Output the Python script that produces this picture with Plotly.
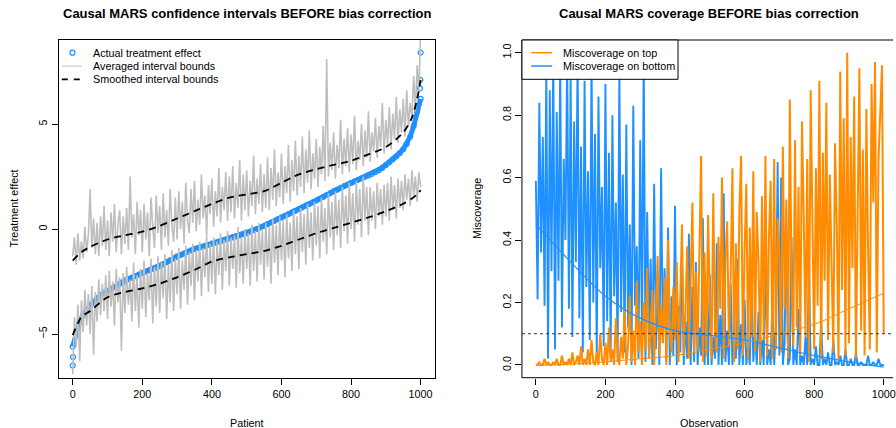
import plotly.graph_objects as go

W, H = 896, 428

# ---------------- data: left panel ----------------
PATIENT_STEP10 = list(range(0, 1001, 10))
EFFECT = [-5.6, -4.9, -4.4, -4.1, -3.85, -3.65, -3.48, -3.3, -3.15, -3.05,
          -2.95, -2.85, -2.75, -2.65, -2.55, -2.45, -2.38, -2.31, -2.24, -2.17,
          -2.1, -2.03, -1.96, -1.9, -1.84, -1.78, -1.68, -1.58, -1.49, -1.4,
          -1.3, -1.23, -1.16, -1.09, -1.02, -0.95, -0.9, -0.85, -0.8, -0.75,
          -0.7, -0.65, -0.6, -0.55, -0.5, -0.45, -0.4, -0.35, -0.3, -0.25,
          -0.2, -0.13, -0.06, 0.01, 0.08, 0.15, 0.23, 0.31, 0.39, 0.47,
          0.55, 0.63, 0.71, 0.79, 0.87, 0.95, 1.03, 1.11, 1.19, 1.27,
          1.35, 1.44, 1.53, 1.62, 1.71, 1.8, 1.88, 1.96, 2.04, 2.12,
          2.2, 2.27, 2.34, 2.41, 2.48, 2.55, 2.63, 2.71, 2.8, 2.92,
          3.05, 3.18, 3.32, 3.46, 3.62, 3.8, 4.05, 4.4, 4.9, 5.6, 6.2]
TAIL_IDX = [0, 1, 998, 999, 1000]
TAIL_EFFECT = [-6.5, -6.1, 6.7, 7.1, 8.4]

PATIENT_STEP5 = list(range(0, 1001, 5))
UPPER = [-1.3, -0.4, -1.7, -0.2, -1.5, -0.6, -1.4, 0.1, -1.1, -0.3,
         1.9, -0.9, 0.5, -1.2, 0.3, -1.3, 0.6, -0.8, 1.1, -1.0,
         0.4, -1.3, 0.8, -0.6, 1.2, -1.1, 0.2, 0.9, -1.2, 0.6,
         -0.7, 1.0, -1.0, 2.5, -0.4, 0.7, -1.2, 1.3, -0.3, 0.9,
         -1.1, 1.2, -0.5, 0.8, -1.3, 1.5, 0.1, -0.9, 1.6, -0.2,
         1.1, -1.0, 1.7, -0.4, 0.9, -0.8, 1.9, 0.2, -0.6, 1.5,
         -0.5, 1.8, 0.0, 1.3, -0.7, 2.2, 0.4, -0.2, 1.9, 0.3,
         2.3, -0.1, 1.4, 0.2, 2.6, 0.5, 1.6, -0.3, 2.1, 0.7,
         2.4, 0.1, 1.8, 0.6, 2.9, 0.3, 2.0, 0.9, 2.7, 0.4,
         2.5, 0.8, 3.0, 0.5, 2.2, 1.0, 3.3, 0.4, 2.6, 0.9,
         2.8, 0.6, 2.3, 1.1, 3.5, 0.7, 2.4, 1.2, 3.1, 0.8,
         2.6, 1.0, 3.4, 0.9, 2.9, 1.4, 3.8, 1.1, 2.7, 1.5,
         3.6, 1.2, 3.0, 1.7, 4.0, 1.3, 3.3, 1.8, 4.2, 1.6,
         3.5, 2.0, 4.4, 1.7, 3.8, 2.2, 4.7, 1.9, 3.6, 2.4,
         4.3, 2.0, 3.9, 2.6, 4.9, 2.3, 8.1, 2.5, 4.1, 2.8,
         4.6, 2.4, 4.0, 2.9, 5.2, 2.6, 4.3, 3.0, 4.8, 2.7,
         4.5, 3.1, 5.4, 2.8, 4.2, 3.3, 5.0, 3.0, 4.7, 3.4,
         5.6, 3.2, 4.6, 3.7, 5.3, 3.4, 4.9, 3.9, 6.0, 3.6,
         5.2, 4.0, 5.8, 3.8, 5.5, 4.3, 6.3, 4.1, 5.7, 4.6,
         6.2, 4.4, 6.6, 4.9, 6.0, 5.3, 7.3, 5.6, 7.8, 6.5,
         9.5]
LOWER = [-6.9, -4.2, -5.6, -3.6, -6.3, -3.4, -4.9, -2.9, -4.6, -3.1,
         -5.0, -2.7, -6.0, -3.0, -4.4, -2.4, -4.1, -2.6, -3.9, -2.2,
         -4.3, -2.0, -3.7, -2.5, -4.6, -1.9, -3.5, -2.3, -5.8, -2.1,
         -4.0, -1.8, -3.6, -2.4, -4.4, -1.6, -3.9, -2.2, -4.7, -1.9,
         -3.8, -1.5, -4.2, -2.1, -3.4, -1.4, -4.5, -1.8, -3.7, -1.3,
         -4.0, -1.6, -3.3, -1.2, -4.3, -1.7, -3.5, -1.0, -3.9, -1.4,
         -3.1, -0.9, -3.8, -1.5, -2.9, -0.8, -3.6, -1.1, -2.7, -0.7,
         -3.4, -1.0, -2.5, -0.6, -3.2, -0.9, -2.3, -0.3, -3.0, -0.7,
         -2.6, -0.4, -3.1, -0.6, -2.2, -0.2, -2.9, -0.5, -2.0, -0.1,
         -2.7, -0.4, -1.9, -0.3, -2.8, 0.1, -2.1, -0.4, -2.6, 0.0,
         -1.9, -0.2, -2.7, 0.2, -2.0, -0.1, -2.5, 0.3, -1.7, 0.0,
         -2.4, 0.3, -1.8, 0.1, -2.6, 0.5, -1.6, 0.2, -2.2, 0.6,
         -1.5, 0.4, -2.3, 0.7, -1.4, 0.3, -2.0, 0.9, -1.2, 0.6,
         -1.9, 1.0, -1.1, 0.7, -1.7, 1.2, -0.9, 0.8, -1.5, 1.3,
         -0.8, 1.1, -1.4, 1.5, -0.6, 1.0, -1.2, 1.7, -0.4, 1.3,
         -1.0, 1.8, -0.3, 1.4, -0.9, 2.0, -0.1, 1.6, -0.7, 2.2,
         0.0, 1.7, -0.6, 2.3, 0.2, 1.9, -0.4, 2.5, 0.4, 2.0,
         -0.3, 2.0, 0.4, 1.8, 0.0, 2.2, 0.6, 1.9, 0.2, 2.1,
         0.6, 2.2, 0.4, 2.5, 0.9, 2.1, 0.5, 2.4, 1.0, 2.3,
         0.9, 2.6, 1.4, 2.4, 1.1, 2.8, 1.6, 2.5, 1.3, 2.7,
         2.0]

SMOOTH_IDX = [0, 25, 50, 100, 150, 200, 250, 300, 350, 400, 450, 500, 550,
              600, 650, 700, 750, 800, 850, 900, 950, 975, 990, 1000]
UPPER_SMOOTH = [-1.5, -1.1, -0.85, -0.5, -0.3, -0.13, 0.15, 0.5, 0.85, 1.2,
                1.5, 1.65, 1.8, 2.2, 2.6, 2.85, 3.05, 3.25, 3.55, 3.9, 4.6,
                5.3, 6.2, 7.1]
LOWER_SMOOTH = [-5.05, -4.2, -3.9, -3.25, -3.0, -2.83, -2.6, -2.3, -1.95, -1.55,
                -1.35, -1.2, -1.05, -0.8, -0.5, -0.2, 0.05, 0.3, 0.55, 0.85,
                1.2, 1.45, 1.65, 1.85]

# ---------------- data: right panel ----------------
OBS_STEP5 = list(range(0, 1001, 5))
MISS_BOTTOM = [0.59, 0.21, 0.84, 0.36, 0.73, 0.19, 0.95, 0.02, 0.88, 0.30,
               1.0, 0.05, 0.81, 0.27, 0.97, 0.12, 0.66, 0.40, 1.0, 0.18,
               0.93, 0.09, 0.78, 0.33, 1.0, 0.15, 0.70, 0.04, 0.91, 0.25,
               0.62, 0.08, 0.99, 0.20, 0.74, 0.02, 0.86, 0.31, 0.57, 0.06,
               0.90, 0.14, 0.68, 0.03, 0.80, 0.22, 0.52, 0.01, 0.95, 0.17,
               0.61, 0.04, 0.77, 0.12, 0.45, 0.00, 0.83, 0.19, 0.38, 0.02,
               0.72, 0.08, 1.0, 0.01, 0.49, 0.10, 0.34, 0.00, 0.58, 0.05,
               0.27, 0.00, 0.63, 0.07, 0.31, 0.01, 0.44, 0.00, 0.22, 0.03,
               0.51, 0.00, 0.19, 0.04, 0.36, 0.00, 0.14, 0.02, 0.42, 0.00,
               0.25, 0.01, 0.33, 0.00, 0.12, 0.03, 0.47, 0.00, 0.18, 0.00,
               0.29, 0.00, 0.09, 0.02, 0.39, 0.00, 0.16, 0.00, 0.55, 0.01,
               0.11, 0.00, 0.26, 0.00, 0.07, 0.02, 0.34, 0.00, 0.13, 0.00,
               0.21, 0.00, 0.06, 0.00, 0.28, 0.01, 0.10, 0.00, 0.17, 0.00,
               0.08, 0.00, 0.37, 0.00, 0.05, 0.00, 0.22, 0.00, 0.12, 0.65,
               0.03, 0.60, 0.00, 0.07, 0.46, 0.00, 0.02, 0.41, 0.00, 0.05,
               0.00, 0.18, 0.00, 0.03, 0.00, 0.09, 0.00, 0.31, 0.00, 0.02,
               0.00, 0.06, 0.00, 0.00, 0.14, 0.00, 0.02, 0.00, 0.04, 0.00,
               0.00, 0.08, 0.00, 0.01, 0.00, 0.03, 0.00, 0.00, 0.05, 0.00,
               0.00, 0.02, 0.00, 0.00, 0.04, 0.00, 0.00, 0.01, 0.00, 0.00,
               0.00, 0.03, 0.00, 0.00, 0.01, 0.00, 0.00, 0.02, 0.00, 0.00,
               0.00]
MISS_TOP = [0.00, 0.00, 0.01, 0.00, 0.00, 0.02, 0.00, 0.01, 0.00, 0.00,
            0.01, 0.00, 0.02, 0.00, 0.00, 0.03, 0.00, 0.01, 0.00, 0.02,
            0.00, 0.04, 0.00, 0.01, 0.03, 0.00, 0.06, 0.00, 0.02, 0.00,
            0.05, 0.00, 0.08, 0.01, 0.00, 0.04, 0.00, 0.10, 0.02, 0.00,
            0.07, 0.00, 0.12, 0.01, 0.05, 0.00, 0.15, 0.03, 0.00, 0.09,
            0.02, 0.18, 0.00, 0.06, 0.22, 0.01, 0.11, 0.00, 0.27, 0.04,
            0.14, 0.00, 0.20, 0.05, 0.31, 0.02, 0.09, 0.24, 0.00, 0.16,
            0.35, 0.03, 0.19, 0.07, 0.28, 0.00, 0.40, 0.12, 0.04, 0.25,
            0.08, 0.33, 0.01, 0.21, 0.45, 0.03, 0.17, 0.38, 0.02, 0.27,
            0.52, 0.04, 0.30, 0.05, 0.43, 0.67, 0.01, 0.36, 0.03, 0.48,
            0.22, 0.02, 0.55, 0.11, 0.04, 0.41, 0.18, 0.60, 0.02, 0.34,
            0.46, 0.06, 0.29, 0.63, 0.01, 0.39, 0.05, 0.50, 0.67, 0.03,
            0.37, 0.58, 0.02, 0.44, 0.09, 0.62, 0.04, 0.49, 0.33, 0.01,
            0.54, 0.08, 0.67, 0.03, 0.41, 0.59, 0.02, 0.66, 0.05, 0.47,
            0.35, 0.04, 0.70, 0.18, 0.53, 0.02, 0.85, 0.26, 0.06, 0.72,
            0.12, 0.57, 0.03, 0.78, 0.48, 0.09, 0.66, 0.01, 0.88, 0.36,
            0.05, 0.63, 0.19, 0.91, 0.02, 0.68, 0.27, 0.84, 0.08, 0.61,
            0.33, 0.04, 0.71, 0.45, 0.01, 0.94, 0.24, 0.79, 0.03, 1.0,
            0.07, 0.73, 0.31, 0.86, 0.02, 0.58, 0.95, 0.11, 0.69, 0.03,
            0.82, 0.37, 0.05, 0.90, 0.52, 0.97, 0.04, 0.66, 0.85, 0.96,
            0.10]
MISS_SMOOTH_IDX = [0, 100, 200, 300, 400, 500, 600, 700, 800, 900, 1000]
BOTTOM_SMOOTH = [0.45, 0.33, 0.22, 0.15, 0.11, 0.095, 0.08, 0.055, 0.03, 0.01, -0.007]
TOP_SMOOTH = [-0.002, 0.003, 0.01, 0.02, 0.03, 0.05, 0.07, 0.10, 0.13, 0.18, 0.23]
TARGET_LEVEL = 0.1

X_TICKS = [0, 200, 400, 600, 800, 1000]
LEFT_Y_TICKS = [-5, 0, 5]
RIGHT_Y_TICKS = [0.0, 0.2, 0.4, 0.6, 0.8, 1.0]

BLUE = "#1E90FF"
ORANGE = "#FF8C00"
GRAY = "#BEBEBE"
FONT = "Liberation Sans, Arial, sans-serif"
FS = 10.8


def px(x):
    return x / W


def py(y):
    return 1 - y / H


L_X0, L_X1 = 59, 436
R_X0, R_X1 = 523.7, 896
Y0, Y1 = 40, 377.7

fig = go.Figure()

# left panel traces
fig.add_trace(go.Scatter(x=PATIENT_STEP10, y=EFFECT, mode="lines",
                         line=dict(color=BLUE, width=5), xaxis="x", yaxis="y",
                         showlegend=False, hoverinfo="skip"))
fig.add_trace(go.Scatter(x=PATIENT_STEP10 + TAIL_IDX, y=EFFECT + TAIL_EFFECT,
                         mode="markers", name="Actual treatment effect",
                         marker=dict(symbol="circle-open", size=5, color=BLUE,
                                     line=dict(width=1.2, color=BLUE)),
                         xaxis="x", yaxis="y", showlegend=False))
fig.add_trace(go.Scatter(x=PATIENT_STEP5, y=UPPER, mode="lines",
                         name="Averaged interval bounds",
                         line=dict(color=GRAY, width=1.6), xaxis="x", yaxis="y",
                         showlegend=False))
fig.add_trace(go.Scatter(x=PATIENT_STEP5, y=LOWER, mode="lines",
                         line=dict(color=GRAY, width=1.6), xaxis="x", yaxis="y",
                         showlegend=False))
for ys in (UPPER_SMOOTH, LOWER_SMOOTH):
    fig.add_trace(go.Scatter(x=SMOOTH_IDX, y=ys, mode="lines",
                             name="Smoothed interval bounds",
                             line=dict(color="black", width=1.8, dash="7px,5px",
                                       shape="spline", smoothing=0.8),
                             xaxis="x", yaxis="y", showlegend=False))

# right panel traces
fig.add_trace(go.Scatter(x=OBS_STEP5, y=MISS_BOTTOM, mode="lines",
                         name="Miscoverage on bottom",
                         line=dict(color=BLUE, width=1.9), xaxis="x2", yaxis="y2",
                         showlegend=False))
fig.add_trace(go.Scatter(x=OBS_STEP5, y=MISS_TOP, mode="lines",
                         name="Miscoverage on top",
                         line=dict(color=ORANGE, width=2.0), xaxis="x2", yaxis="y2",
                         showlegend=False))
fig.add_trace(go.Scatter(x=MISS_SMOOTH_IDX, y=BOTTOM_SMOOTH, mode="lines",
                         line=dict(color=BLUE, width=1.2, shape="spline"),
                         xaxis="x2", yaxis="y2", showlegend=False))
fig.add_trace(go.Scatter(x=MISS_SMOOTH_IDX, y=TOP_SMOOTH, mode="lines",
                         line=dict(color=ORANGE, width=1.0, shape="spline"),
                         xaxis="x2", yaxis="y2", showlegend=False))

axis_common = dict(showgrid=False, zeroline=False, ticks="outside", ticklen=6,
                   tickcolor="black", tickwidth=1, ticklabeloverflow="allow",
                   tickfont=dict(family=FONT, size=FS, color="black"))

fig.update_layout(
    width=W, height=H, margin=dict(l=0, r=0, t=0, b=0),
    paper_bgcolor="white", plot_bgcolor="white", showlegend=False,
    xaxis=dict(domain=[px(L_X0), px(L_X1)], range=[-40, 1040], tickvals=X_TICKS,
               anchor="y", showline=True, mirror=True, linecolor="black",
               linewidth=1, **axis_common),
    yaxis=dict(domain=[py(Y1), py(Y0)], range=[-7.08, 9.0], tickvals=LEFT_Y_TICKS,
               anchor="x", tickangle=-90, showline=True, mirror=True,
               linecolor="black", linewidth=1, **axis_common),
    xaxis2=dict(domain=[px(R_X0), px(R_X1)], range=[-40, 1026.6], tickvals=X_TICKS,
                anchor="y2", showline=False, **axis_common),
    yaxis2=dict(domain=[py(Y1), py(Y0)], range=[-0.0407, 1.0407],
                tickvals=RIGHT_Y_TICKS, ticktext=["0.0", "0.2", "0.4", "0.6", "0.8", "1.0"],
                anchor="x2", tickangle=-90, showline=False, **axis_common),
)

shapes = []
# right panel box (left, top, bottom sides)
for (x0, y0, x1, y1) in [(R_X0, Y0, R_X0, Y1), (R_X0, Y0, W, Y0), (R_X0, Y1, W, Y1)]:
    shapes.append(dict(type="line", xref="paper", yref="paper",
                       x0=px(x0), x1=px(x1), y0=py(y0), y1=py(y1),
                       line=dict(color="black", width=1), layer="above"))
# target level
shapes.append(dict(type="line", xref="x2 domain", yref="y2", x0=0, x1=1,
                   y0=TARGET_LEVEL, y1=TARGET_LEVEL,
                   line=dict(color="#333333", width=1.2, dash="dot"), layer="above"))
# left legend
shapes.append(dict(type="rect", xref="paper", yref="paper", x0=px(L_X0 + 0.5), x1=px(224),
                   y0=py(94), y1=py(Y0 + 0.5), fillcolor="white",
                   line=dict(width=0), layer="above"))
shapes.append(dict(type="circle", xref="paper", yref="paper",
                   x0=px(70.2), x1=px(75.2), y0=py(55.2), y1=py(50.2),
                   line=dict(color=BLUE, width=1.2), layer="above"))
shapes.append(dict(type="line", xref="paper", yref="paper", x0=px(62), x1=px(82),
                   y0=py(66), y1=py(66), line=dict(color=GRAY, width=1), layer="above"))
shapes.append(dict(type="line", xref="paper", yref="paper", x0=px(62), x1=px(83),
                   y0=py(79.3), y1=py(79.3),
                   line=dict(color="black", width=1.8, dash="6px,6px"), layer="above"))
# right legend
shapes.append(dict(type="rect", xref="paper", yref="paper", x0=px(R_X0), x1=px(680.3),
                   y0=py(79.3), y1=py(Y0), fillcolor="white",
                   line=dict(color="black", width=1), layer="above"))
shapes.append(dict(type="line", xref="paper", yref="paper", x0=px(533), x1=px(554),
                   y0=py(52.7), y1=py(52.7), line=dict(color=ORANGE, width=1.5), layer="above"))
shapes.append(dict(type="line", xref="paper", yref="paper", x0=px(533), x1=px(554),
                   y0=py(66), y1=py(66), line=dict(color=BLUE, width=1.5), layer="above"))
fig.update_layout(shapes=shapes)

ann = []


def text(x, y, s, size=FS, xanchor="center", angle=0, bold=False):
    ann.append(dict(x=px(x), y=py(y), xref="paper", yref="paper",
                    text=f"<b>{s}</b>" if bold else s, showarrow=False,
                    xanchor=xanchor, yanchor="middle", textangle=angle,
                    font=dict(family=FONT, size=size, color="black")))


text(247.5, 14, "Causal MARS confidence intervals BEFORE bias correction", size=13, bold=True)
text(711, 14, "Causal MARS coverage BEFORE bias correction", size=13, bold=True)
text(247.5, 423, "Patient")
text(711, 423, "Observation")
text(14, 208.5, "Treatment effect", angle=-90)
text(478, 208.5, "Miscoverage", angle=-90)
text(91.7, 52.7, "Actual treatment effect", xanchor="left")
text(91.7, 66, "Averaged interval bounds", xanchor="left")
text(91.7, 79.3, "Smoothed interval bounds", xanchor="left")
text(563, 52.7, "Miscoverage on top", xanchor="left")
text(563, 66, "Miscoverage on bottom", xanchor="left")
fig.update_layout(annotations=ann)

fig.write_html("out.html")
